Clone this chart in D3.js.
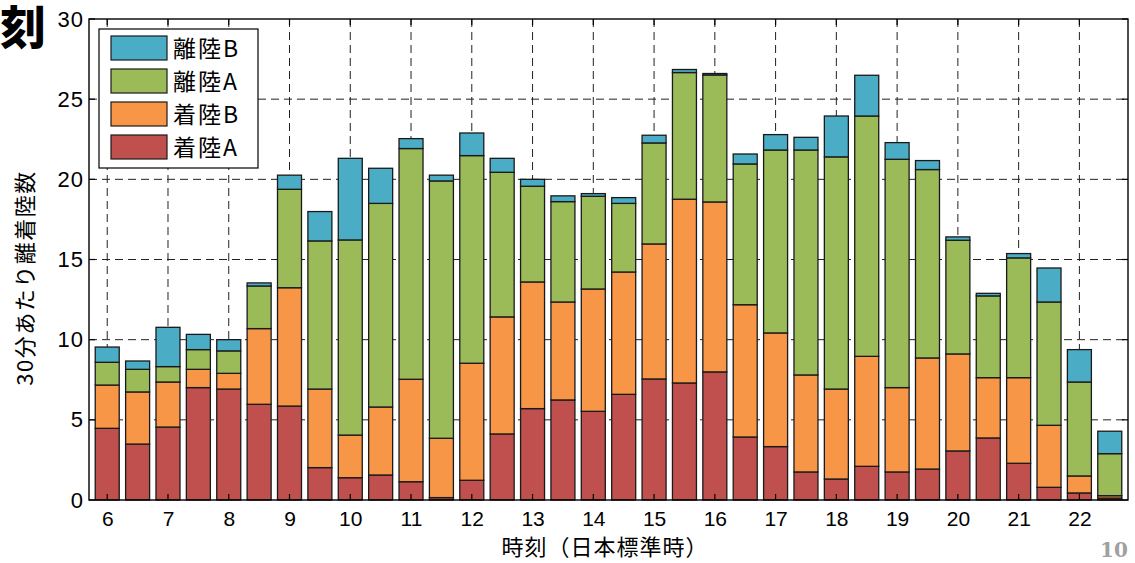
<!DOCTYPE html>
<html>
<head>
<meta charset="utf-8">
<script src="https://cdn.jsdelivr.net/npm/d3@7"></script>
<style>
body{margin:0;background:#fff;}
svg{display:block;}
</style>
</head>
<body>
<svg id="c" width="1135" height="563"></svg>
<script>
const times = ["6:00","6:30","7:00","7:30","8:00","8:30","9:00","9:30","10:00","10:30","11:00","11:30","12:00","12:30","13:00","13:30","14:00","14:30","15:00","15:30","16:00","16:30","17:00","17:30","18:00","18:30","19:00","19:30","20:00","20:30","21:00","21:30","22:00","22:30"];
const hourTicks = [6,7,8,9,10,11,12,13,14,15,16,17,18,19,20,21,22];
const yTicks = [0,5,10,15,20,25,30];
const seriesNames = ["着陸A","着陸B","離陸A","離陸B"];
const landingA = [4.47,3.49,4.55,7.01,6.92,5.97,5.86,2.02,1.39,1.56,1.14,0.15,1.23,4.12,5.70,6.24,5.53,6.59,7.55,7.30,7.99,3.93,3.33,1.75,1.31,2.10,1.75,1.93,3.06,3.87,2.29,0.79,0.44,0.12];
const landingB = [2.70,3.25,2.81,1.14,0.98,4.72,7.38,4.90,2.66,4.24,6.39,3.70,7.30,7.30,7.90,6.11,7.63,7.63,8.42,11.46,10.60,8.25,7.09,6.05,5.61,6.86,5.26,6.93,6.05,3.76,5.34,3.87,1.06,0.15];
const takeoffA = [1.42,1.41,0.96,1.23,1.40,2.66,6.14,9.24,12.17,12.70,14.39,16.05,12.95,9.02,5.97,6.26,5.78,4.28,6.30,7.90,7.92,8.78,11.41,14.03,14.48,14.99,14.24,11.75,7.09,5.10,7.47,7.69,5.86,2.62];
const takeoffB = [0.95,0.52,2.45,0.95,0.70,0.19,0.88,1.83,5.09,2.19,0.62,0.36,1.41,0.87,0.43,0.36,0.17,0.36,0.48,0.19,0.09,0.62,0.96,0.79,2.55,2.54,1.04,0.56,0.21,0.16,0.27,2.12,2.02,1.40];
const colors = ["#C0504D","#F79646","#9BBB59","#4BACC6"];

const svg = d3.select("#c");
const L = 89, R = 1128, T = 19, B = 500;
const x = d3.scaleLinear().domain([-0.6, times.length - 0.4]).range([L, R]);
const y = d3.scaleLinear().domain([0, 30]).range([B, T]);
const font = "'Liberation Sans','Noto Sans CJK JP',sans-serif";
const jfont = "'Noto Sans CJK JP',sans-serif";

// title fragment
svg.append("text").attr("x", 0).attr("y", 44).attr("font-family", jfont)
  .attr("font-weight", 900).attr("font-size", 46).attr("fill", "#000").text("刻");
// page number
svg.append("text").attr("x", 1100).attr("y", 557).attr("font-family", "'DejaVu Serif',serif")
  .attr("font-weight", "bold").attr("font-size", 20).attr("fill", "#a0a0a0").text("10");

// grid
const grid = svg.append("g").attr("stroke", "#222").attr("stroke-width", 1).attr("stroke-dasharray", "8,5");
hourTicks.forEach((h, i) => {
  const xi = x(i * 2);
  grid.append("line").attr("x1", xi).attr("x2", xi).attr("y1", T).attr("y2", B);
});
yTicks.filter(v => v > 0 && v < 30).forEach(v => {
  grid.append("line").attr("x1", L).attr("x2", R).attr("y1", y(v)).attr("y2", y(v));
});

// stacked bars
const data = times.map((t, i) => ({i, v: [landingA[i], landingB[i], takeoffA[i], takeoffB[i]]}));
const bw = 0.79;
const gb = svg.append("g");
data.forEach(d => {
  let base = 0;
  d.v.forEach((val, k) => {
    gb.append("rect")
      .attr("x", x(d.i - bw / 2)).attr("width", x(bw) - x(0))
      .attr("y", y(base + val)).attr("height", y(base) - y(base + val))
      .attr("fill", colors[k]).attr("stroke", "#1a1a1a").attr("stroke-width", 1.3);
    base += val;
  });
});

// axes box
svg.append("rect").attr("x", L).attr("y", T).attr("width", R - L).attr("height", B - T)
  .attr("fill", "none").attr("stroke", "#000").attr("stroke-width", 1.4);

// axes via d3
const xAxis = d3.axisBottom(x).tickValues(hourTicks.map((h, i) => i * 2))
  .tickFormat((d) => hourTicks[d / 2]).tickSize(0).tickPadding(11);
const gx = svg.append("g").attr("transform", `translate(0,${B})`).call(xAxis);
gx.select(".domain").remove();
gx.selectAll("text").attr("font-family", font).attr("font-size", 21).attr("fill", "#000");

const yAxis = d3.axisLeft(y).tickValues(yTicks).tickSize(0).tickPadding(5);
const gy = svg.append("g").attr("transform", `translate(${L},0)`).call(yAxis);
gy.select(".domain").remove();
gy.selectAll("text").attr("font-family", font).attr("font-size", 22).attr("letter-spacing", 1).attr("fill", "#000");

// inward tick marks on all sides
const tk = svg.append("g").attr("stroke", "#000").attr("stroke-width", 1.2);
hourTicks.forEach((h, i) => {
  const xi = x(i * 2);
  tk.append("line").attr("x1", xi).attr("x2", xi).attr("y1", B).attr("y2", B - 6);
  tk.append("line").attr("x1", xi).attr("x2", xi).attr("y1", T).attr("y2", T + 6);
});
yTicks.forEach(v => {
  tk.append("line").attr("x1", L).attr("x2", L + 6).attr("y1", y(v)).attr("y2", y(v));
  tk.append("line").attr("x1", R).attr("x2", R - 6).attr("y1", y(v)).attr("y2", y(v));
});

// axis labels
svg.append("text").attr("x", 605).attr("y", 555).attr("text-anchor", "middle")
  .attr("font-family", jfont).attr("font-size", 22).attr("letter-spacing", 1).attr("fill", "#000").text("時刻（日本標準時）");
svg.append("text").attr("transform", "translate(33,278) rotate(-90)").attr("text-anchor", "middle")
  .attr("font-family", jfont).attr("font-size", 22).attr("letter-spacing", 1.5).attr("fill", "#000").text("30分あたり離着陸数");

// legend
const lg = svg.append("g");
lg.append("rect").attr("x", 99).attr("y", 29).attr("width", 159).attr("height", 139)
  .attr("fill", "#fff").attr("stroke", "#000").attr("stroke-width", 1.2);
const legendOrder = [3, 2, 1, 0];
legendOrder.forEach((k, j) => {
  const yy = 36 + j * 33;
  lg.append("rect").attr("x", 111).attr("y", yy).attr("width", 56).attr("height", 24)
    .attr("fill", colors[k]).attr("stroke", "#1a1a1a").attr("stroke-width", 1.2);
  lg.append("text").attr("x", 173).attr("y", yy + 21).attr("font-family", jfont)
    .attr("font-size", 23).attr("letter-spacing", 2).attr("fill", "#000").text(seriesNames[k]);
});
</script>
</body>
</html>
